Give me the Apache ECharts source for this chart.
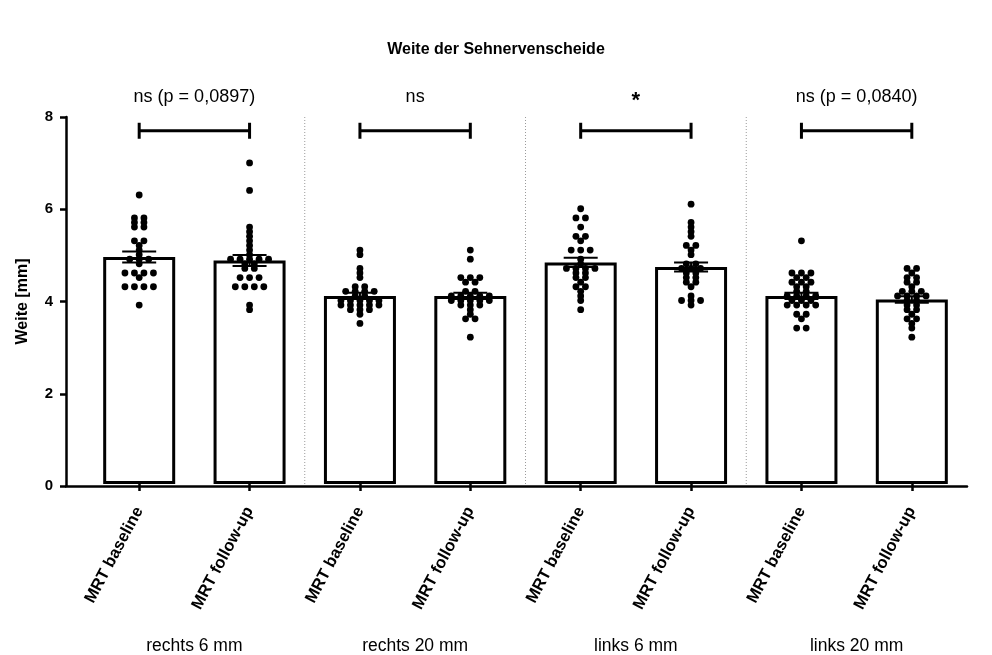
<!DOCTYPE html>
<html>
<head>
<meta charset="utf-8">
<script src="https://cdn.jsdelivr.net/npm/echarts@6/dist/echarts.min.js"></script>
<style>html,body{margin:0;padding:0;background:#fff}#c{width:992px;height:655px}</style>
</head>
<body>
<div id="c"></div>
<script>
// ---- data ----
const chartTitle = 'Weite der Sehnervenscheide';
const yName = 'Weite [mm]';
const groups = ['rechts 6 mm', 'rechts 20 mm', 'links 6 mm', 'links 20 mm'];
const categories = ['MRT baseline', 'MRT follow-up', 'MRT baseline', 'MRT follow-up',
                    'MRT baseline', 'MRT follow-up', 'MRT baseline', 'MRT follow-up'];
const means = [4.95, 4.87, 4.10, 4.10, 4.83, 4.73, 4.10, 4.02];
const sems  = [0.12, 0.12, 0.07, 0.07, 0.10, 0.10, 0.07, 0.07];
const pts_r6_base = [6.3, 5.8, 5.8, 5.7, 5.7, 5.6, 5.6, 5.3, 5.3, 5.2, 5.1, 5.0, 4.9, 4.9, 4.9, 4.8, 4.6, 4.6, 4.6, 4.6, 4.5, 4.3, 4.3, 4.3, 4.3, 3.9];
const pts_r6_fu   = [7.0, 6.4, 5.6, 5.5, 5.4, 5.3, 5.2, 5.1, 5.0, 4.9, 4.9, 4.9, 4.9, 4.9, 4.8, 4.8, 4.7, 4.7, 4.5, 4.5, 4.5, 4.3, 4.3, 4.3, 4.3, 3.9, 3.8];
const pts_r20_base = [5.1, 5.0, 4.7, 4.6, 4.5, 4.3, 4.3, 4.2, 4.2, 4.2, 4.2, 4.1, 4.1, 4.0, 4.0, 4.0, 4.0, 4.0, 3.9, 3.9, 3.9, 3.9, 3.9, 3.8, 3.8, 3.8, 3.7, 3.5];
const pts_r20_fu   = [5.1, 4.9, 4.5, 4.5, 4.5, 4.4, 4.4, 4.2, 4.2, 4.1, 4.1, 4.1, 4.1, 4.1, 4.0, 4.0, 4.0, 4.0, 4.0, 3.9, 3.9, 3.9, 3.8, 3.7, 3.6, 3.6, 3.2];
const pts_l6_base = [6.0, 5.8, 5.8, 5.6, 5.4, 5.4, 5.3, 5.1, 5.1, 5.1, 4.9, 4.8, 4.7, 4.7, 4.7, 4.7, 4.6, 4.6, 4.5, 4.5, 4.4, 4.3, 4.3, 4.2, 4.1, 4.0, 3.8];
const pts_l6_fu   = [6.1, 5.7, 5.6, 5.5, 5.4, 5.2, 5.2, 5.1, 5.0, 4.8, 4.8, 4.7, 4.7, 4.7, 4.6, 4.6, 4.5, 4.5, 4.4, 4.4, 4.3, 4.1, 4.0, 4.0, 4.0, 3.9];
const pts_l20_base = [5.3, 4.6, 4.6, 4.6, 4.5, 4.5, 4.4, 4.4, 4.4, 4.3, 4.3, 4.2, 4.2, 4.1, 4.1, 4.1, 4.1, 4.0, 4.0, 4.0, 3.9, 3.9, 3.9, 3.9, 3.7, 3.7, 3.6, 3.4, 3.4];
const pts_l20_fu   = [4.7, 4.7, 4.6, 4.5, 4.5, 4.4, 4.4, 4.3, 4.2, 4.2, 4.2, 4.1, 4.1, 4.1, 4.1, 4.0, 4.0, 3.9, 3.9, 3.8, 3.8, 3.7, 3.6, 3.6, 3.5, 3.4, 3.2];
const sigLabels = ['ns (p = 0,0897)', 'ns', '*', 'ns (p = 0,0840)'];
const bracketLevel = 7.7;
const yMin = 0, yMax = 8, yStep = 2;

const allPoints = [pts_r6_base, pts_r6_fu, pts_r20_base, pts_r20_fu, pts_l6_base, pts_l6_fu, pts_l20_base, pts_l20_fu];

// ---- beeswarm layout: equal values spread horizontally (pixel offset) ----
const DOT_GAP = 9.5;
const scatterData = [];
allPoints.forEach((arr, ci) => {
  const counts = {};
  arr.forEach(v => { const k = v.toFixed(1); counts[k] = (counts[k] || 0) + 1; });
  const seen = {};
  arr.forEach(v => {
    const k = v.toFixed(1);
    const n = counts[k];
    const idx = seen[k] || 0; seen[k] = idx + 1;
    const off = (idx - (n - 1) / 2) * DOT_GAP;
    scatterData.push([ci, v, off]);
  });
});

const FONT = '"Liberation Sans", Arial, Helvetica, sans-serif';
const chart = echarts.init(document.getElementById('c'), null, { renderer: 'canvas' });

const option = {
  backgroundColor: '#fff',
  animation: false,
  title: {
    text: chartTitle, left: 'center', top: 37,
    textStyle: { fontFamily: FONT, fontSize: 16, fontWeight: 'bold', color: '#000' }
  },
  grid: [
    { left: 66, right: 25, top: 117, height: 369 },
    { left: 84, right: 25, top: 117, height: 369 }
  ],
  xAxis: [
    { gridIndex: 0, type: 'value', min: 0, max: 1,
      axisLine: { show: true, lineStyle: { color: '#000', width: 2.5 } },
      axisTick: { show: false }, axisLabel: { show: false }, splitLine: { show: false } },
    { gridIndex: 1, type: 'category', data: categories, boundaryGap: true,
      axisLine: { show: false },
      axisTick: { show: true, alignWithLabel: true, length: 7, lineStyle: { color: '#000', width: 2.5 } },
      axisLabel: { rotate: 62, margin: 24, fontFamily: FONT, fontSize: 16.5, fontWeight: 'bold', color: '#000', interval: 0 },
      splitLine: { show: false } },
    { gridIndex: 1, type: 'category', data: groups, boundaryGap: true, position: 'bottom', offset: 146,
      axisLine: { show: false }, axisTick: { show: false },
      axisLabel: { margin: 7, fontFamily: FONT, fontSize: 17.5, color: '#000', interval: 0 } }
  ],
  yAxis: [
    { gridIndex: 0, type: 'value', min: yMin, max: yMax, interval: yStep,
      name: yName, nameLocation: 'middle', nameGap: 35,
      nameTextStyle: { fontFamily: FONT, fontSize: 16, fontWeight: 'bold', color: '#000' },
      axisLine: { show: true, lineStyle: { color: '#000', width: 2.5 } },
      axisTick: { show: true, length: 6, lineStyle: { color: '#000', width: 2.5 } },
      axisLabel: { margin: 13, fontFamily: FONT, fontSize: 15, fontWeight: 'bold', color: '#000' },
      splitLine: { show: false } },
    { gridIndex: 1, type: 'value', min: yMin, max: yMax, show: false, splitLine: { show: false } }
  ],
  series: [
    { // group separators
      type: 'custom', xAxisIndex: 1, yAxisIndex: 1, z: 1, silent: true,
      data: [[1], [3], [5]],
      renderItem: (params, api) => {
        const half = api.size([1, 0])[0] / 2;
        const x = api.coord([api.value(0), 0])[0] + half;
        const y0 = api.coord([0, yMin])[1];
        const y1 = api.coord([0, yMax])[1];
        return { type: 'line', shape: { x1: x, y1: y0, x2: x, y2: y1 },
          style: { stroke: '#9a9a9a', lineWidth: 1, lineDash: [1, 2] } };
      }
    },
    { // bars
      type: 'bar', xAxisIndex: 1, yAxisIndex: 1, barWidth: 72, z: 2,
      data: means,
      itemStyle: { color: '#fff', borderColor: '#000', borderWidth: 3 }
    },
    { // individual points
      type: 'custom', xAxisIndex: 1, yAxisIndex: 1, z: 4,
      data: scatterData,
      renderItem: (params, api) => {
        const p = api.coord([api.value(0), api.value(1)]);
        return { type: 'circle', shape: { cx: p[0] + api.value(2), cy: p[1], r: 3.4 },
          style: { fill: '#000' } };
      }
    },
    { // SEM error bars
      type: 'custom', xAxisIndex: 1, yAxisIndex: 1, z: 5,
      data: means.map((m, i) => [i, m, sems[i]]),
      renderItem: (params, api) => {
        const i = api.value(0), m = api.value(1), s = api.value(2);
        const top = api.coord([i, m + s]);
        const bot = api.coord([i, m - s]);
        const w = 17;
        const st = { stroke: '#000', lineWidth: 2 };
        return { type: 'group', children: [
          { type: 'line', shape: { x1: top[0], y1: top[1], x2: bot[0], y2: bot[1] }, style: st },
          { type: 'line', shape: { x1: top[0] - w, y1: top[1], x2: top[0] + w, y2: top[1] }, style: st },
          { type: 'line', shape: { x1: bot[0] - w, y1: bot[1], x2: bot[0] + w, y2: bot[1] }, style: st }
        ] };
      }
    },
    { // significance brackets
      type: 'custom', xAxisIndex: 1, yAxisIndex: 1, z: 5, clip: false,
      data: sigLabels.map((t, g) => [g * 2, bracketLevel, g]),
      renderItem: (params, api) => {
        const i = api.value(0), lv = api.value(1), g = api.value(2);
        const p1 = api.coord([i, lv]);
        const p2 = api.coord([i + 1, lv]);
        const st = { stroke: '#000', lineWidth: 3 };
        const label = sigLabels[g];
        const star = label === '*';
        return { type: 'group', children: [
          { type: 'line', shape: { x1: p1[0], y1: p1[1], x2: p2[0], y2: p2[1] }, style: st },
          { type: 'line', shape: { x1: p1[0], y1: p1[1] - 8, x2: p1[0], y2: p1[1] + 8 }, style: st },
          { type: 'line', shape: { x1: p2[0], y1: p2[1] - 8, x2: p2[0], y2: p2[1] + 8 }, style: st },
          { type: 'text', x: (p1[0] + p2[0]) / 2, y: p1[1] - (star ? 30 : 34),
            style: { text: label, fill: '#000', align: 'center', verticalAlign: 'middle',
              font: (star ? 'bold 22px ' : '18px ') + FONT } }
        ] };
      }
    }
  ]
};
chart.setOption(option);
</script>
</body>
</html>
